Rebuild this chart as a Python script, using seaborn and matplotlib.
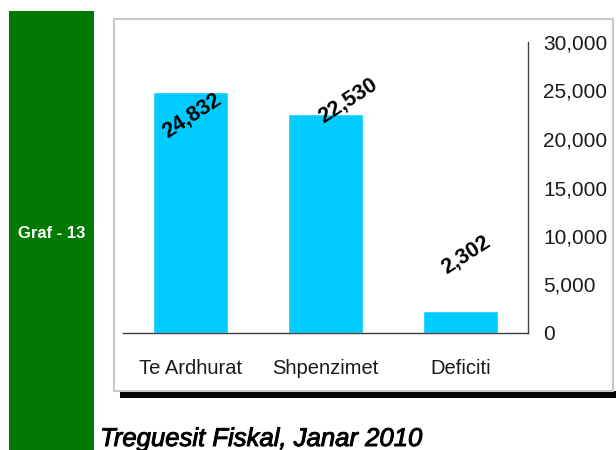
import matplotlib
matplotlib.use("Agg")
import matplotlib.pyplot as plt
import seaborn as sns
import pandas as pd
from matplotlib.patches import Rectangle
from matplotlib.ticker import FuncFormatter
import matplotlib.patheffects as pe

categories = ["Te Ardhurat", "Shpenzimet", "Deficiti"]
values = [24832, 22530, 2302]
label_offsets = [(1, -17), (16, 10), (4, 40)]  # text offsets in points
yticks = [0, 5000, 10000, 15000, 20000, 25000, 30000]

sns.set_style("white")
plt.rcParams['font.family'] = ['Liberation Sans', 'DejaVu Sans']

W, H = 616, 450
fig = plt.figure(figsize=(W / 100, H / 100), dpi=100)

# green side band
fig.patches.append(Rectangle((9 / W, 0), 85 / W, (H - 11) / H, transform=fig.transFigure,
                             facecolor="#007A00", edgecolor="none", zorder=0))
fig.text(52 / W, 1 - 233 / H, "Graf - 13", color="white", fontsize=12, fontweight="bold",
         ha="center", va="center")
# shadow
fig.patches.append(Rectangle((120 / W, 1 - 398 / H), (W - 120) / W, 7 / H, transform=fig.transFigure,
                             facecolor="black", edgecolor="none", zorder=0))
# frame
fig.patches.append(Rectangle((114 / W, 1 - 391 / H), (613 - 114) / W, (391 - 19) / H,
                             transform=fig.transFigure, facecolor="white", edgecolor="#C8C8C8",
                             linewidth=1.5, zorder=1))

ax = fig.add_axes([123 / W, (H - 333) / H, (528 - 123) / W, (333 - 42) / H])
ax.set_facecolor("none")
ax.set_zorder(2)
df = pd.DataFrame({"cat": categories, "val": values})
sns.barplot(data=df, x="cat", y="val", color="#00CCFF", saturation=1, width=0.56, ax=ax)
ax.set_xlim(-0.5, 2.5)
ax.set_ylim(0, 30000)
ax.set_yticks(yticks)
ax.yaxis.set_major_formatter(FuncFormatter(lambda v, p: f"{int(v):,}"))
ax.yaxis.tick_right()
ax.tick_params(axis="y", length=0, pad=11, labelsize=15, labelcolor="#1a1a1a")
ax.tick_params(axis="x", length=0, pad=19, labelsize=14.5, labelcolor="#1a1a1a")
ax.set_xlabel("")
ax.set_ylabel("")
for s in ["left", "top"]:
    ax.spines[s].set_visible(False)
for s in ["right", "bottom"]:
    ax.spines[s].set_color("#404040")
    ax.spines[s].set_linewidth(1)

for i, (v, off) in enumerate(zip(values, label_offsets)):
    ax.annotate(f"{v:,}", xy=(i, v), xytext=off, textcoords="offset points",
                ha="center", va="center", rotation=33, fontsize=15.5, fontweight="bold",
                color="black")

t = fig.text(100 / W, 1 - 446 / H, "Treguesit Fiskal, Janar 2010", fontsize=18.5, style="italic",
             ha="left", va="baseline", color="black")
t.set_path_effects([pe.withStroke(linewidth=0.7, foreground="black")])

fig.savefig("out.png", dpi=100)
